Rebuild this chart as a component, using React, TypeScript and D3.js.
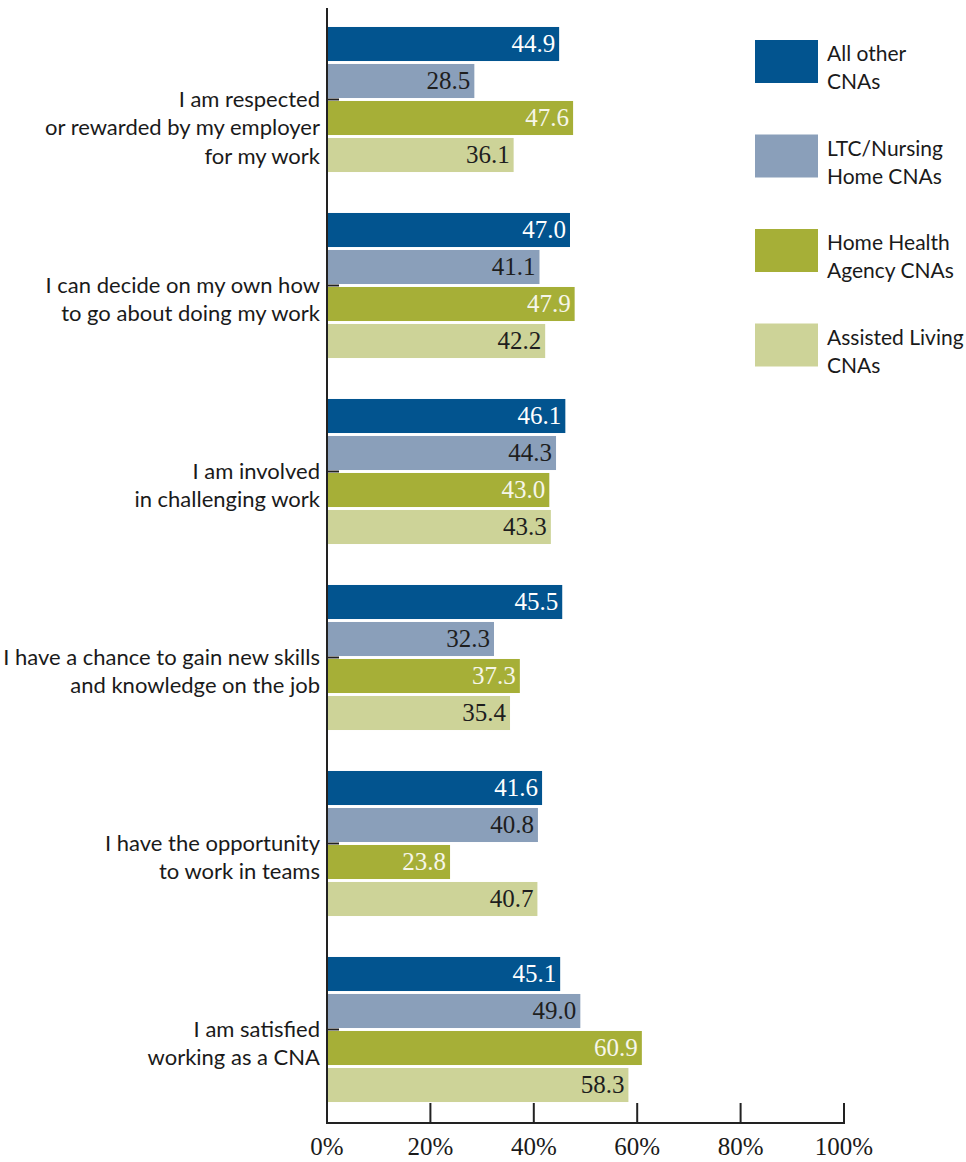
import React, { useEffect, useRef } from 'react';
import * as d3 from 'd3';

// categories, each label split into its printed lines
const categories = ['respected', 'decide', 'involved', 'skills', 'teams', 'satisfied'];
const categoryLines = [
    ['I am respected', 'or rewarded by my employer', 'for my work'],
    ['I can decide on my own how', 'to go about doing my work'],
    ['I am involved', 'in challenging work'],
    ['I have a chance to gain new skills', 'and knowledge on the job'],
    ['I have the opportunity', 'to work in teams'],
    ['I am satisfied', 'working as a CNA'],
];

const seriesNames = ['All other CNAs', 'LTC/Nursing Home CNAs', 'Home Health Agency CNAs', 'Assisted Living CNAs'];
const legendLines = [
    ['All other', 'CNAs'],
    ['LTC/Nursing', 'Home CNAs'],
    ['Home Health', 'Agency CNAs'],
    ['Assisted Living', 'CNAs'],
];

const allOther = [44.9, 47.0, 46.1, 45.5, 41.6, 45.1];
const ltcNursing = [28.5, 41.1, 44.3, 32.3, 40.8, 49.0];
const homeHealth = [47.6, 47.9, 43.0, 37.3, 23.8, 60.9];
const assistedLiving = [36.1, 42.2, 43.3, 35.4, 40.7, 58.3];

const xTicks = [0, 20, 40, 60, 80, 100];

const barColors = ['#02548f', '#8a9fba', '#a6af37', '#cdd398'];
const valueColors = ['#ffffff', '#1e1e1e', '#f6f6ea', '#1e1e1e'];

const App: React.FC = () => {
    const svgRef = useRef<SVGSVGElement | null>(null);

    useEffect(() => {
        const svg = d3.select(svgRef.current);
        svg.selectAll('*').remove();

        const width = 966;
        const height = 1162;
        svg.attr('width', width).attr('height', height);

        const sansFont = 'Lato, "Open Sans", sans-serif';
        const serifFont = '"Liberation Serif", "DejaVu Serif", serif';

        const series = [allOther, ltcNursing, homeHealth, assistedLiving];

        const x = d3.scaleLinear().domain([0, 100]).range([327, 844]);
        const axisY = 1123;

        const y0 = d3.scaleBand()
            .domain(categories)
            .range([6.5, 6.5 + 186 * categories.length])
            .padding(0);

        const chart = svg.append('g');

        // small inward ticks at each group's centre
        chart.selectAll('.cat-tick')
            .data(categories)
            .enter().append('line')
            .attr('x1', x(0))
            .attr('x2', x(0) + 12)
            .attr('y1', d => (y0(d) || 0) + y0.bandwidth() / 2)
            .attr('y2', d => (y0(d) || 0) + y0.bandwidth() / 2)
            .attr('stroke', '#222')
            .attr('stroke-width', 2);

        categories.forEach((cat, ci) => {
            const center = (y0(cat) || 0) + y0.bandwidth() / 2;
            const y1 = d3.scaleBand()
                .domain(seriesNames)
                .range([center - 74, center + 74])
                .paddingInner(0.08)
                .paddingOuter(0.04);

            const g = chart.append('g');

            seriesNames.forEach((name, si) => {
                const v = series[si][ci];
                const top = y1(name) || 0;
                g.append('rect')
                    .attr('x', x(0) + 1)
                    .attr('y', top)
                    .attr('width', x(v) - x(0) - 1)
                    .attr('height', y1.bandwidth())
                    .attr('fill', barColors[si]);

                g.append('text')
                    .attr('x', x(v) - 4)
                    .attr('y', top + y1.bandwidth() / 2 + 8)
                    .attr('text-anchor', 'end')
                    .attr('font-family', serifFont)
                    .attr('font-size', '25px')
                    .attr('fill', valueColors[si])
                    .text(v.toFixed(1));
            });

            // category label, first line at the group centre
            g.append('text')
                .attr('text-anchor', 'end')
                .attr('font-family', sansFont)
                .attr('font-size', '22px')
                .attr('fill', '#1a1a1a')
                .selectAll('tspan')
                .data(categoryLines[ci])
                .enter().append('tspan')
                .attr('x', 320)
                .attr('y', (d, i) => center + 7 + i * 28.5)
                .text(d => d);
        });

        // axes
        chart.append('line')
            .attr('x1', x(0)).attr('x2', x(0))
            .attr('y1', 8).attr('y2', axisY + 1)
            .attr('stroke', '#222').attr('stroke-width', 2);

        chart.append('line')
            .attr('x1', x(0)).attr('x2', x(100) + 1)
            .attr('y1', axisY).attr('y2', axisY)
            .attr('stroke', '#222').attr('stroke-width', 2);

        chart.selectAll('.x-tick')
            .data(xTicks.filter(t => t > 0))
            .enter().append('line')
            .attr('x1', d => x(d)).attr('x2', d => x(d))
            .attr('y1', axisY - 20).attr('y2', axisY)
            .attr('stroke', '#222').attr('stroke-width', 2);

        chart.selectAll('.x-label')
            .data(xTicks)
            .enter().append('text')
            .attr('x', d => x(d))
            .attr('y', 1155)
            .attr('text-anchor', 'middle')
            .attr('font-family', serifFont)
            .attr('font-size', '25px')
            .attr('fill', '#1a1a1a')
            .text(d => `${d}%`);

        // legend
        const legend = svg.append('g');
        seriesNames.forEach((name, i) => {
            const top = 40 + i * 94.5;
            legend.append('rect')
                .attr('x', 755)
                .attr('y', top)
                .attr('width', 63)
                .attr('height', 43)
                .attr('fill', barColors[i]);
            legend.append('text')
                .attr('font-family', sansFont)
                .attr('font-size', '21px')
                .attr('fill', '#1a1a1a')
                .selectAll('tspan')
                .data(legendLines[i])
                .enter().append('tspan')
                .attr('x', 827)
                .attr('y', (d, j) => top + 21 + j * 28)
                .text(d => d);
        });
    }, []);

    return (
        <svg ref={svgRef} style={{ position: 'absolute', left: 0, top: 0 }}></svg>
    );
};

export default App;
